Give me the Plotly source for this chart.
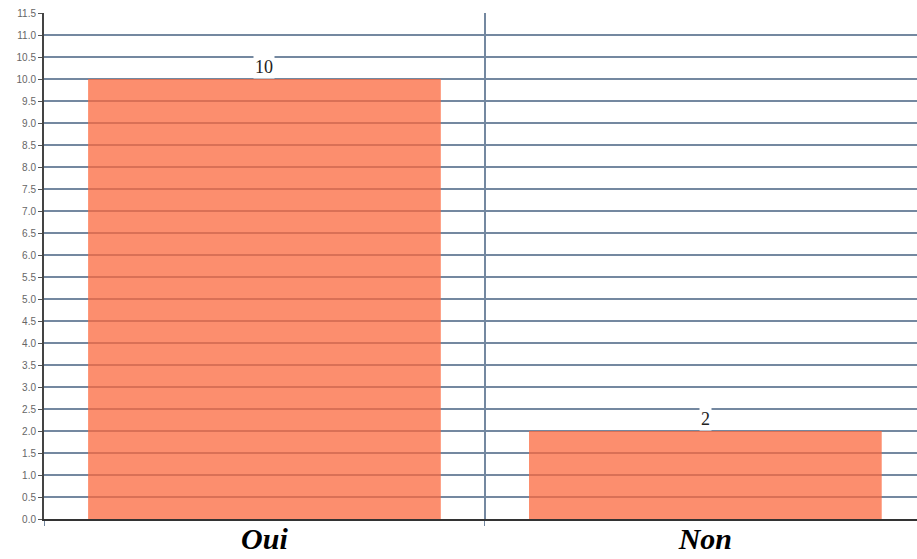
import plotly.graph_objects as go

categories = ["Oui", "Non"]
values = [10, 2]
tick_labels = ["<b><i>Oui</i></b>", "<b><i>Non</i></b>"]

fig = go.Figure()
fig.add_trace(go.Bar(
    x=categories, y=values,
    marker=dict(color="rgb(251,104,62)", line=dict(width=0)),
    opacity=0.75,
    width=0.8,
    hoverinfo="skip",
))

for c, v in zip(categories, values):
    fig.add_annotation(
        x=c, y=v, text=str(v), showarrow=False, yshift=12,
        bgcolor="white", borderpad=1,
        font=dict(family="Liberation Serif", size=18, color="#222"),
    )

fig.update_layout(
    width=917, height=559,
    margin=dict(l=44, r=0, t=13, b=40, autoexpand=False),
    paper_bgcolor="white", plot_bgcolor="white",
    showlegend=False,
    bargap=0.2,
)
fig.update_xaxes(
    type="category",
    tickvals=categories, ticktext=tick_labels,
    range=[-0.5, 1.48],
    tickson="boundaries",
    showgrid=True, gridcolor="#7488a0", gridwidth=1.5,
    ticks="outside", ticklen=5, tickcolor="#7488a0",
    showline=True, linecolor="#333", linewidth=2,
    tickfont=dict(family="Liberation Serif", size=30, color="#000"),
    ticklabelstandoff=-8,
    zeroline=False, automargin=False,
)
fig.update_yaxes(
    range=[0, 11.5], dtick=0.5, tick0=0, tickformat=".1f",
    showgrid=True, gridcolor="#7488a0", gridwidth=1.5,
    ticks="outside", ticklen=4, tickcolor="#555",
    showline=True, linecolor="#444", linewidth=2,
    tickfont=dict(family="Liberation Sans", size=10, color="#666"),
    zeroline=False, automargin=False,
)

fig.write_html(
    "out.html",
    config={"displayModeBar": False},
    post_script="document.body.style.margin='0';document.body.style.overflow='hidden';",
)
